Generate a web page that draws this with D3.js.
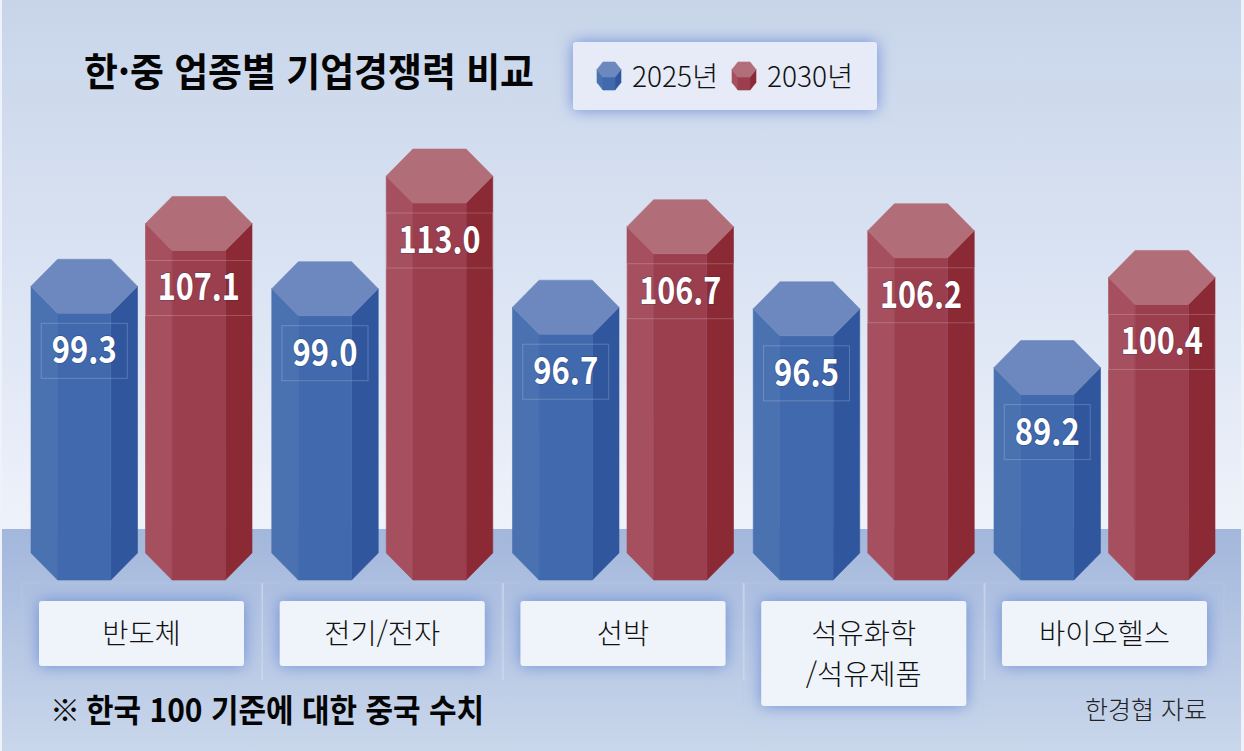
<!DOCTYPE html>
<html lang="ko">
<head>
<meta charset="utf-8">
<script src="https://cdn.jsdelivr.net/npm/d3@7"></script>
<style>
  html, body { margin: 0; padding: 0; background: #fff; }
  svg { display: block; }
  text { font-family: "Noto Sans CJK KR", "Noto Sans", sans-serif; }
</style>
</head>
<body>
<div id="chart"></div>
<script>
// datos de la gráfica
const categories = ["반도체", "전기/전자", "선박", "석유화학\n/석유제품", "바이오헬스"];
const years = ["2025년", "2030년"];
const values2025 = [99.3, 99.0, 96.7, 96.5, 89.2];
const values2030 = [107.1, 113.0, 106.7, 106.2, 100.4];

const title = "한·중 업종별 기업경쟁력 비교";
const noteMark = "※";
const note = "한국 100 기준에 대한 중국 수치";
const source = "한경협 자료";

const width = 1244, height = 751;
const baseY = 580;

const palette = {
    "2025년": { top: "#6c88be", left: "#4a72b0", mid: "#4169ad", right: "#30579e" },
    "2030년": { top: "#b26e78", left: "#a64f5e", mid: "#9b3f4f", right: "#8b2a35" }
};

const svg = d3.select("#chart").append("svg")
    .attr("width", width)
    .attr("height", height);

const defs = svg.append("defs");

const skyGrad = defs.append("linearGradient")
    .attr("id", "sky").attr("x1", 0).attr("x2", 0).attr("y1", 0).attr("y2", 1);
skyGrad.append("stop").attr("offset", 0).attr("stop-color", "#c8d5e9");
skyGrad.append("stop").attr("offset", 0.5).attr("stop-color", "#dae3f3");
skyGrad.append("stop").attr("offset", 1).attr("stop-color", "#eef2fa");

const floorGrad = defs.append("linearGradient")
    .attr("id", "floor").attr("x1", 0).attr("x2", 0).attr("y1", 0).attr("y2", 1);
floorGrad.append("stop").attr("offset", 0).attr("stop-color", "#a3b7dc");
floorGrad.append("stop").attr("offset", 1).attr("stop-color", "#c9d7eb");

const glow = defs.append("filter")
    .attr("id", "glow")
    .attr("x", "-20%").attr("y", "-40%").attr("width", "140%").attr("height", "180%");
glow.append("feDropShadow")
    .attr("dx", 0).attr("dy", 0)
    .attr("stdDeviation", 8)
    .attr("flood-color", "#6f8ed6")
    .attr("flood-opacity", 1);

// fondo
svg.append("rect").attr("width", width).attr("height", height).attr("fill", "#eef2f9");
svg.append("rect").attr("x", 2).attr("y", 0).attr("width", 1239).attr("height", 529).attr("fill", "url(#sky)");
svg.append("rect").attr("x", 2).attr("y", 529).attr("width", 1239).attr("height", 222).attr("fill", "url(#floor)");

// escalas
const x0 = d3.scaleBand()
    .domain(categories)
    .range([31, 1215])
    .paddingInner(0.082);

const x1 = d3.scaleBand()
    .domain(years)
    .range([0, x0.bandwidth()])
    .paddingInner(0.07);

const y = d3.scaleLinear()
    .domain([59.46, 113])
    .range([baseY, 149]);

// prisma hexagonal: cara superior y tres caras frontales
function prism(g, px, w, top, bottom, capH, colors) {
    const inset = w * 0.25;
    const half = capH / 2;
    const poly = (pts, fill) => g.append("polygon")
        .attr("points", pts.map(p => p.join(",")).join(" "))
        .attr("fill", fill)
        .attr("stroke", fill)
        .attr("stroke-width", 0.6);
    poly([[px, top + half], [px + inset, top + capH], [px + inset, bottom], [px, bottom - half]], colors.left);
    poly([[px + w - inset, top + capH], [px + w, top + half], [px + w, bottom - half], [px + w - inset, bottom]], colors.right);
    poly([[px + inset, top + capH], [px + w - inset, top + capH], [px + w - inset, bottom], [px + inset, bottom]], colors.mid);
    poly([[px + inset, top], [px + w - inset, top], [px + w, top + half], [px + w - inset, top + capH], [px + inset, top + capH], [px, top + half]], colors.top);
}

// marcos tenues y separadores bajo las barras
const frames = svg.append("g").attr("class", "frames");
categories.forEach((c, i) => {
    const fx = x0(c);
    frames.append("rect")
        .attr("x", fx - 9).attr("y", 583)
        .attr("width", x0.bandwidth() + 18)
        .attr("height", i === 3 ? 140 : 97)
        .attr("fill", "none")
        .attr("stroke", "#c4d1e9")
        .attr("stroke-width", 1)
        .attr("opacity", 0.3);
    if (i > 0) {
        frames.append("line")
            .attr("x1", fx - 9.5).attr("x2", fx - 9.5)
            .attr("y1", 583).attr("y2", 680)
            .attr("stroke", "#d0dbef")
            .attr("stroke-opacity", 0.7)
            .attr("stroke-width", 1.5);
    }
});

// barras
const series = [
    { year: years[0], values: values2025 },
    { year: years[1], values: values2030 }
];

series.forEach(s => {
    const g = svg.append("g").attr("class", "bars");
    s.values.forEach((v, i) => {
        const bx = x0(categories[i]) + x1(s.year);
        const bw = x1.bandwidth();
        const top = y(v);
        prism(g, bx, bw, top, baseY, 54, palette[s.year]);

        const boxW = s.year === years[0] ? 86 : bw;
        g.append("rect")
            .attr("x", bx + (bw - boxW) / 2)
            .attr("y", top + 64)
            .attr("width", boxW)
            .attr("height", 55)
            .attr("fill", "none")
            .attr("stroke", "#ffffff")
            .attr("stroke-opacity", 0.2);

        const label = d3.format(".1f")(v);
        g.append("text")
            .attr("x", bx + bw / 2)
            .attr("y", top + 104)
            .attr("text-anchor", "middle")
            .attr("font-size", 37)
            .attr("font-weight", 700)
            .attr("fill", "#fff")
            .attr("stroke", "#1e2850")
            .attr("stroke-opacity", 0.25)
            .attr("stroke-width", 2)
            .attr("paint-order", "stroke")
            .attr("textLength", label.length === 4 ? 65 : 82)
            .attr("lengthAdjust", "spacingAndGlyphs")
            .text(label);
    });
});

// etiquetas de categoría
categories.forEach((c, i) => {
    const lines = c.split("\n");
    const bx = x0(c) + 8;
    svg.append("rect")
        .attr("x", bx).attr("y", 601)
        .attr("width", 205)
        .attr("height", lines.length > 1 ? 105 : 65)
        .attr("rx", 3)
        .attr("fill", "#eff4fb")
        .attr("filter", "url(#glow)");
    lines.forEach((t, k) => {
        svg.append("text")
            .attr("x", bx + 102.5)
            .attr("y", 644 + k * 41)
            .attr("text-anchor", "middle")
            .attr("font-size", 28.5)
            .attr("font-weight", 300)
            .attr("fill", "#111")
            .text(t);
    });
});

// título
svg.append("text")
    .attr("x", 84).attr("y", 86)
    .attr("font-size", 39)
    .attr("font-weight", 700)
    .attr("fill", "#050505")
    .attr("textLength", 450)
    .attr("lengthAdjust", "spacingAndGlyphs")
    .text(title);

// leyenda
svg.append("rect")
    .attr("x", 573).attr("y", 42)
    .attr("width", 304).attr("height", 68)
    .attr("rx", 3)
    .attr("fill", "#e6ebf7")
    .attr("filter", "url(#glow)");

const legendX = d3.scalePoint().domain(years).range([597, 732]);
years.forEach(yr => {
    const lx = legendX(yr);
    const g = svg.append("g").attr("class", "legend-item");
    prism(g, lx, 24, 62, 90, 15, palette[yr]);
    g.append("text")
        .attr("x", lx + 35).attr("y", 87)
        .attr("font-size", 28)
        .attr("font-weight", 300)
        .attr("fill", "#111")
        .attr("textLength", 86)
        .attr("lengthAdjust", "spacingAndGlyphs")
        .text(yr);
});

// nota y fuente
svg.append("text")
    .attr("x", 50).attr("y", 721)
    .attr("font-size", 30)
    .attr("font-weight", 300)
    .attr("fill", "#050505")
    .text(noteMark);

svg.append("text")
    .attr("x", 86).attr("y", 722)
    .attr("font-size", 32)
    .attr("font-weight", 700)
    .attr("fill", "#050505")
    .attr("textLength", 398)
    .attr("lengthAdjust", "spacingAndGlyphs")
    .text(note);

svg.append("text")
    .attr("x", 1207).attr("y", 719)
    .attr("text-anchor", "end")
    .attr("font-size", 25)
    .attr("font-weight", 300)
    .attr("fill", "#222")
    .text(source);
</script>
</body>
</html>
